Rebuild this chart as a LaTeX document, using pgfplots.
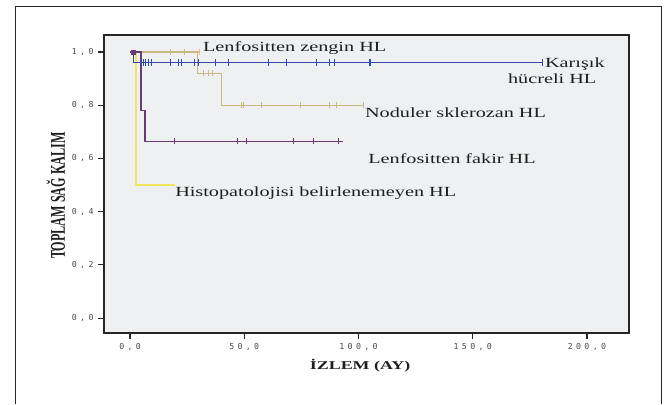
\documentclass[border=0pt]{standalone}
\usepackage{graphicx}
\usepackage{fontspec}
\setmainfont{Liberation Serif}
\newfontfamily\tickfont[LetterSpace=40]{DejaVu Sans Mono}
\usepackage{pgfplots}
\pgfplotsset{compat=1.18}

\definecolor{bgGray}{HTML}{EFF0F1}
\definecolor{frameGray}{HTML}{262626}
\definecolor{tickGray}{HTML}{4A4A4A}
\definecolor{nodTan}{HTML}{C8B982}
\definecolor{zenOrange}{HTML}{E6BC88}
\definecolor{hisYellow}{HTML}{F0E460}
\definecolor{karBlue}{HTML}{3349A6}
\definecolor{fakPurple}{HTML}{6A3A72}
\definecolor{txt}{HTML}{1E1E1E}

\newcommand\tl[1]{{\tickfont\fontsize{8.3}{9}\selectfont #1}}
\newcommand\lab[1]{\scalebox{1.45}[1]{\fontsize{14}{16}\selectfont #1}}

\begin{document}
\begin{tikzpicture}[x=1bp,y=1bp]
\path[use as bounding box] (0,0) rectangle (665,404);
% outer frame
\draw[frameGray, line width=1bp] (15,0) -- (15,397) -- (661,397) -- (661,0);
\begin{axis}[
  at={(104bp,71bp)}, anchor=south west,
  scale only axis, width=525bp, height=298bp,
  xmin=-11.4, xmax=218.4, ymin=-0.056, ymax=1.064,
  clip=false,
  axis background/.style={fill=bgGray},
  axis line style={frameGray, line width=1.2bp},
  tick style={frameGray, line width=1.1bp},
  tick align=outside, major tick length=6bp,
  xtick pos=left, ytick pos=left,
  xtick={0,50,100,150,200},
  xticklabels={{\tl{0,0}},{\tl{50,0}},{\tl{100,0}},{\tl{150,0}},{\tl{200,0}}},
  ytick={0,0.2,0.4,0.6,0.8,1.0},
  yticklabels={{\tl{0,0}},{\tl{0,2}},{\tl{0,4}},{\tl{0,6}},{\tl{0,8}},{\tl{1,0}}},
  ticklabel style={text=tickGray},
  xticklabel style={yshift=-1bp},
  yticklabel style={xshift=-1bp},
]
% Lenfositten zengin HL
\addplot[zenOrange, line width=1.2bp] coordinates {(0,1.0) (30.3,1.0)};
\addplot[zenOrange, only marks, mark=|, mark size=3bp, line width=0.9bp] coordinates {(30.3,1.0)};
% Noduler sklerozan HL
\addplot[nodTan, line width=1.2bp] coordinates {
  (0,1.0) (29.6,1.0) (29.6,0.92) (40.1,0.92) (40.1,0.80) (102,0.80)};
\addplot[nodTan, only marks, mark=|, mark size=3bp, line width=0.9bp] coordinates {
  (17.5,1.0) (24,1.0) (32.1,0.92) (34.3,0.92) (36.2,0.92)
  (48.9,0.80) (49.6,0.80) (57.3,0.80) (74.7,0.80) (87.2,0.80) (90.5,0.80) (102,0.80)};
% Histopatolojisi belirlenemeyen HL
\addplot[hisYellow, line width=1.6bp] coordinates {
  (0,1.0) (2.5,1.0) (2.5,0.50) (19.7,0.50)};
% Karisik hucreli HL
\addplot[karBlue, line width=1bp] coordinates {
  (0,1.0) (1.6,1.0) (1.6,0.96) (180.7,0.96)};
\addplot[karBlue, only marks, mark=|, mark size=3.2bp, line width=1bp] coordinates {
  (5.1,0.96) (5.8,0.96) (6.6,0.96) (8.0,0.96) (9.5,0.96) (17.5,0.96) (21.2,0.96)
  (22.7,0.96) (28.4,0.96) (29.9,0.96) (37.6,0.96) (43.0,0.96) (60.4,0.96)
  (68.5,0.96) (81.6,0.96) (87.5,0.96) (89.7,0.96) (104.6,0.96) (105.4,0.96) (180.7,0.96)};
% Lenfositten fakir HL
\addplot[fakPurple, line width=1.3bp] coordinates {
  (0,1.0) (4.8,1.0) (4.8,0.78) (6.6,0.78) (6.6,0.665) (93,0.665)};
\addplot[fakPurple, only marks, mark=|, mark size=3.2bp, line width=1bp] coordinates {
  (19.4,0.665) (47.1,0.665) (51.1,0.665) (71.5,0.665) (80.2,0.665) (91.2,0.665)};
\addplot[fakPurple, only marks, mark=square*, mark size=2.2bp] coordinates {(1.5,1.0)};

% curve labels
\node[anchor=west, text=txt, inner sep=0] at (axis cs:31.9,1.015) {\lab{Lenfositten zengin HL}};
\node[anchor=west, text=txt, inner sep=0] at (axis cs:181.6,0.955) {\lab{Karışık}};
\node[anchor=west, text=txt, inner sep=0] at (axis cs:165.4,0.899) {\lab{hücreli HL}};
\node[anchor=west, text=txt, inner sep=0] at (axis cs:102.8,0.772) {\lab{Noduler sklerozan HL}};
\node[anchor=west, text=txt, inner sep=0] at (axis cs:104.2,0.599) {\lab{Lenfositten fakir HL}};
\node[anchor=west, text=txt, inner sep=0] at (axis cs:19.7,0.468) {\lab{Histopatolojisi belirlenemeyen HL}};

% axis titles
\node[rotate=90, text=txt, inner sep=0] at (axis cs:-32.4,0.46)
  {\scalebox{0.58}[1]{\fontsize{21}{24}\selectfont\bfseries TOPLAM SAĞ KALIM}};
\node[text=txt, inner sep=0] at (axis cs:100.7,-0.18)
  {\scalebox{1.5}[1]{\fontsize{12}{14}\selectfont\bfseries İZLEM (AY)}};
\end{axis}
\end{tikzpicture}
\end{document}
